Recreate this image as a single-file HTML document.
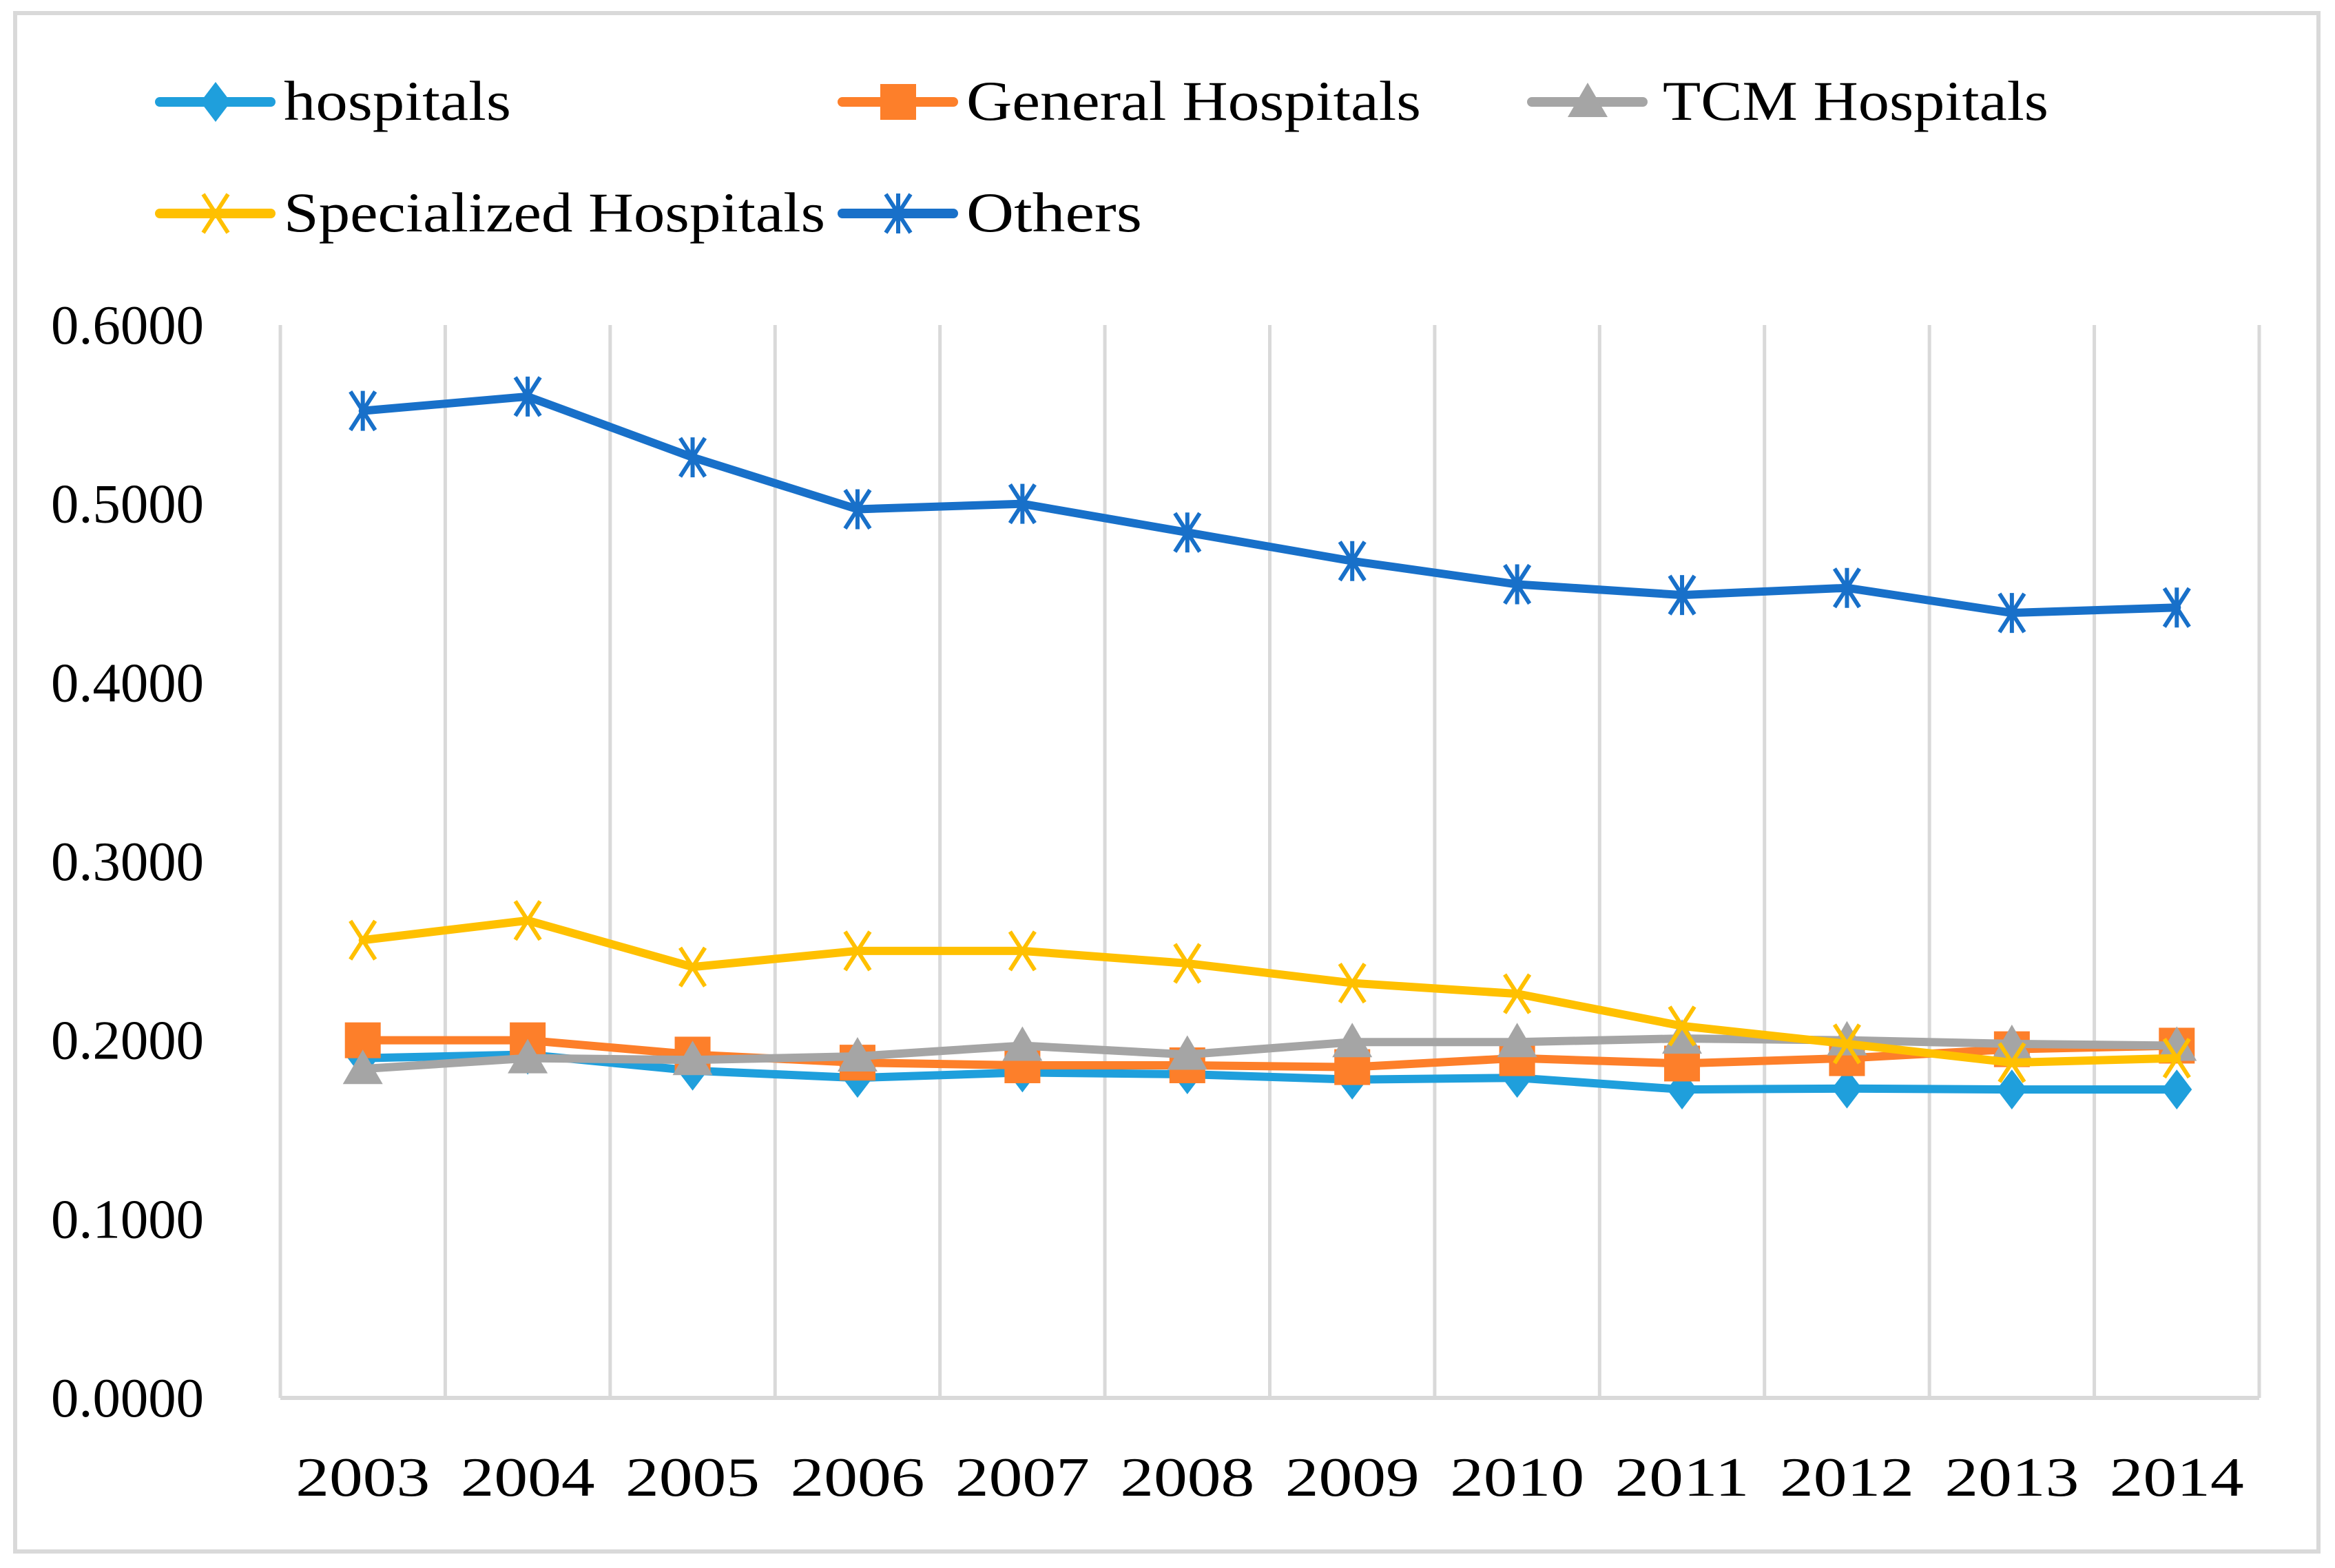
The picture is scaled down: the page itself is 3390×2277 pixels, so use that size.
<!DOCTYPE html>
<html><head><meta charset="utf-8"><style>
html,body{margin:0;padding:0;background:#fff}
svg{display:block}
text{font-family:"Liberation Serif",serif;fill:#000}
</style></head><body>
<svg id="chart" width="3390" height="2277" viewBox="0 0 3390 2277" xmlns="http://www.w3.org/2000/svg">
<rect x="22" y="19" width="3344" height="2234" fill="#fff" stroke="#d9d9d9" stroke-width="6"/>
<g id="grid"></g>
<g id="axes"></g>
<g id="series"></g>
<g id="legend"></g>
</svg>
<script>
const years = ["2003","2004","2005","2006","2007","2008","2009","2010","2011","2012","2013","2014"];
const yTicks = [0,0.1,0.2,0.3,0.4,0.5,0.6];
const yTickLabels = ["0.0000","0.1000","0.2000","0.3000","0.4000","0.5000","0.6000"];
const seriesNames = ["hospitals","General Hospitals","TCM Hospitals","Specialized Hospitals","Others"];
const hospitals = [0.190,0.192,0.183,0.179,0.182,0.181,0.178,0.179,0.1725,0.173,0.1725,0.1725];
const general = [0.200,0.200,0.192,0.1875,0.186,0.186,0.185,0.190,0.187,0.190,0.195,0.197];
const tcm = [0.184,0.190,0.189,0.191,0.197,0.192,0.199,0.199,0.201,0.200,0.198,0.197];
const specialized = [0.256,0.267,0.241,0.250,0.250,0.243,0.232,0.226,0.208,0.198,0.1875,0.190];
const others = [0.552,0.560,0.526,0.497,0.500,0.484,0.468,0.455,0.449,0.453,0.439,0.442];

const NS="http://www.w3.org/2000/svg";
const L=407,R=3280,T=472,B=2030,yMax=0.6;
const band=(R-L)/years.length;
const xs=i=>L+band*(i+0.5);
const ys=v=>B-(v/yMax)*(B-T);
function mk(tag,attrs,parent){const e=document.createElementNS(NS,tag);for(const k in attrs)e.setAttribute(k,attrs[k]);parent.appendChild(e);return e;}
const grid=document.getElementById('grid'),axes=document.getElementById('axes'),ser=document.getElementById('series'),leg=document.getElementById('legend');

for(let i=0;i<=years.length;i++){
  const x=L+band*i;
  const g=mk('line',{x1:x,x2:x,y1:T,y2:B,stroke:'#d9d9d9','stroke-width':5},grid);
  
  
}
const ax=mk('line',{x1:L,x2:R,y1:B,y2:B,stroke:'#d9d9d9','stroke-width':6},axes);


yTicks.forEach((v,i)=>{
  const t=mk('text',{x:296,y:ys(v)+27,'text-anchor':'end','font-size':80,textLength:222,lengthAdjust:'spacingAndGlyphs'},axes);
  t.textContent=yTickLabels[i];
  
  
});
years.forEach((y,i)=>{
  const t=mk('text',{x:xs(i),y:2172,'text-anchor':'middle','font-size':80,textLength:195,lengthAdjust:'spacingAndGlyphs'},axes);
  t.textContent=y;
  
  
});

const colors=['#1f9fdc','#fd7f2a','#a5a5a5','#ffc000','#1870c9'];
const markers=['diamond','square','triangle','x','star'];
const data=[hospitals,general,tcm,specialized,others];

function marker(type,x,y,c,p){
  let e;
  if(type==='diamond') e=mk('polygon',{points:`${x},${y-29} ${x+22},${y} ${x},${y+29} ${x-22},${y}`,fill:c},p);
  else if(type==='square') e=mk('rect',{x:x-26,y:y-26,width:52,height:52,fill:c},p);
  else if(type==='triangle') e=mk('polygon',{points:`${x},${y-28} ${x+29},${y+22} ${x-29},${y+22}`,fill:c},p);
  else if(type==='x'){e=mk('path',{d:`M${x-18},${y-28}L${x+18},${y+28}M${x+18},${y-28}L${x-18},${y+28}`,stroke:c,'stroke-width':6,fill:'none'},p);}
  else {e=mk('path',{d:`M${x-18},${y-28}L${x+18},${y+28}M${x+18},${y-28}L${x-18},${y+28}M${x},${y-29}L${x},${y+29}`,stroke:c,'stroke-width':6,fill:'none'},p);}
  return e;
}

data.forEach((arr,s)=>{
  const g=mk('g',{},ser);
  
  
  const pts=arr.map((v,i)=>xs(i)+','+ys(v)).join(' ');
  const pl=mk('polyline',{points:pts,fill:'none',stroke:colors[s],'stroke-width':12,'stroke-linejoin':'round','stroke-linecap':'round'},g);
  
  
  arr.forEach((v,i)=>{
    const m=marker(markers[s],xs(i),ys(v),colors[s],g);
    
    
  });
});

const legPos=[[226,148],[1217,148],[2218,148],[226,310],[1217,310]];
const legW=[330,660,560,786,255];
seriesNames.forEach((n,s)=>{
  const [x,y]=legPos[s];
  const g=mk('g',{},leg);
  
  
  mk('line',{x1:x+6,x2:x+167,y1:y,y2:y,stroke:colors[s],'stroke-width':14,'stroke-linecap':'round'},g);
  marker(markers[s],x+87,y,colors[s],g);
  const t=mk('text',{x:(s===2?x+196:x+186),y:y+26,'font-size':82,textLength:legW[s],lengthAdjust:'spacingAndGlyphs'},g);
  t.textContent=n;
});
</script>
</body></html>
